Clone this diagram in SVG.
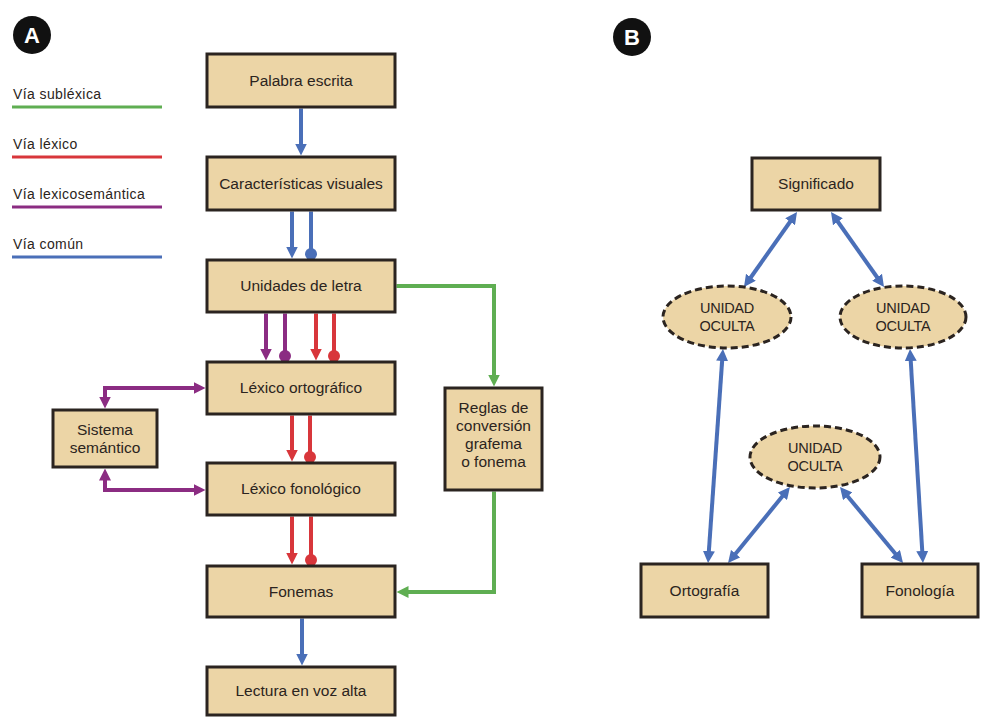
<svg xmlns="http://www.w3.org/2000/svg" width="981" height="717" viewBox="0 0 981 717">
  <style>
    .box { fill: #ecd5a6; stroke: #2b2420; stroke-width: 3; }
    .oval { fill: #ecd5a6; stroke: #2b2420; stroke-width: 3; stroke-dasharray: 7 4; }
    .t { font-family: "Liberation Sans", Arial, sans-serif; font-size: 15.5px; fill: #2b2420; text-anchor: middle; }
    .u { font-family: "Liberation Sans", Arial, sans-serif; font-size: 14.5px; fill: #2b2420; text-anchor: middle; letter-spacing: -0.3px; }
    .leg { font-family: "Liberation Sans", Arial, sans-serif; font-size: 14px; fill: #2b2420; letter-spacing: 0.4px; }
    .badge { font-family: "Liberation Sans", Arial, sans-serif; font-size: 22px; font-weight: bold; fill: #ffffff; text-anchor: middle; }
    .c { fill: none; stroke-width: 4; stroke-linecap: butt; stroke-linejoin: miter; }
    .blue { stroke: #4a6fb8; }
    .red { stroke: #d8363b; }
    .purple { stroke: #8b2c82; }
    .green { stroke: #5fae52; }
    .legline { stroke-width: 3; }
  </style>
  <defs>
    <marker id="ah-blue" viewBox="0 0 12 12" refX="4" refY="6" markerWidth="12" markerHeight="12" markerUnits="userSpaceOnUse" orient="auto-start-reverse">
      <path d="M0,0 L12,6 L0,12 Z" fill="#4a6fb8"/>
    </marker>
    <marker id="ah-red" viewBox="0 0 12 12" refX="4" refY="6" markerWidth="12" markerHeight="12" markerUnits="userSpaceOnUse" orient="auto-start-reverse">
      <path d="M0,0 L12,6 L0,12 Z" fill="#d8363b"/>
    </marker>
    <marker id="ah-purple" viewBox="0 0 12 12" refX="4" refY="6" markerWidth="12" markerHeight="12" markerUnits="userSpaceOnUse" orient="auto-start-reverse">
      <path d="M0,0 L12,6 L0,12 Z" fill="#8b2c82"/>
    </marker>
    <marker id="ah-green" viewBox="0 0 12 12" refX="4" refY="6" markerWidth="12" markerHeight="12" markerUnits="userSpaceOnUse" orient="auto-start-reverse">
      <path d="M0,0 L12,6 L0,12 Z" fill="#5fae52"/>
    </marker>
    <marker id="dot-blue" viewBox="0 0 12 12" refX="6" refY="6" markerWidth="12" markerHeight="12" markerUnits="userSpaceOnUse">
      <circle cx="6" cy="6" r="6" fill="#4a6fb8"/>
    </marker>
    <marker id="dot-red" viewBox="0 0 12 12" refX="6" refY="6" markerWidth="12" markerHeight="12" markerUnits="userSpaceOnUse">
      <circle cx="6" cy="6" r="6" fill="#d8363b"/>
    </marker>
    <marker id="dot-purple" viewBox="0 0 12 12" refX="6" refY="6" markerWidth="12" markerHeight="12" markerUnits="userSpaceOnUse">
      <circle cx="6" cy="6" r="6" fill="#8b2c82"/>
    </marker>
  </defs>

  <rect width="981" height="717" fill="#ffffff"/>

  <!-- Panel badges -->
  <g id="badge-a">
    <circle cx="32" cy="35" r="19" fill="#111111"/>
    <text class="badge" x="32" y="43">A</text>
  </g>
  <g id="badge-b">
    <circle cx="632" cy="37" r="19" fill="#111111"/>
    <text class="badge" x="632" y="45">B</text>
  </g>

  <!-- Legend -->
  <g id="legend">
    <text class="leg" x="13" y="99">Vía subléxica</text>
    <line class="green legline" x1="12" y1="107" x2="162" y2="107"/>
    <text class="leg" x="13" y="149">Vía léxico</text>
    <line class="red legline" x1="12" y1="157" x2="162" y2="157"/>
    <text class="leg" x="13" y="199">Vía lexicosemántica</text>
    <line class="purple legline" x1="12" y1="207" x2="162" y2="207"/>
    <text class="leg" x="13" y="249">Vía común</text>
    <line class="blue legline" x1="12" y1="257" x2="162" y2="257"/>
  </g>

  <!-- Connectors -->
  <g id="connectors">
    <!-- panel A: common route -->
    <line class="c blue" x1="301" y1="108.5" x2="301" y2="147.5" marker-end="url(#ah-blue)"/>
    <line class="c blue" x1="292" y1="211.5" x2="292" y2="250.5" marker-end="url(#ah-blue)"/>
    <line class="c blue" x1="311" y1="211.5" x2="311" y2="254" marker-end="url(#dot-blue)"/>
    <line class="c blue" x1="302" y1="618.5" x2="302" y2="657.5" marker-end="url(#ah-blue)"/>
    <!-- panel A: letter units to orthographic lexicon -->
    <line class="c purple" x1="266" y1="313.5" x2="266" y2="352.5" marker-end="url(#ah-purple)"/>
    <line class="c purple" x1="285" y1="313.5" x2="285" y2="356" marker-end="url(#dot-purple)"/>
    <line class="c red" x1="316" y1="313.5" x2="316" y2="352.5" marker-end="url(#ah-red)"/>
    <line class="c red" x1="334" y1="313.5" x2="334" y2="356" marker-end="url(#dot-red)"/>
    <!-- panel A: lexical route -->
    <line class="c red" x1="292" y1="415.5" x2="292" y2="453.5" marker-end="url(#ah-red)"/>
    <line class="c red" x1="310" y1="415.5" x2="310" y2="457" marker-end="url(#dot-red)"/>
    <line class="c red" x1="292" y1="516.5" x2="292" y2="556.5" marker-end="url(#ah-red)"/>
    <line class="c red" x1="311" y1="516.5" x2="311" y2="560" marker-end="url(#dot-red)"/>
    <!-- panel A: semantic system links -->
    <path class="c purple" d="M105,400.5 V388 H197.5" marker-start="url(#ah-purple)" marker-end="url(#ah-purple)"/>
    <path class="c purple" d="M105,476.5 V490 H197.5" marker-start="url(#ah-purple)" marker-end="url(#ah-purple)"/>
    <!-- panel A: sublexical route -->
    <path class="c green" d="M396.5,286 H494 V378.5" marker-end="url(#ah-green)"/>
    <path class="c green" d="M494,491.5 V592 H404.5" marker-end="url(#ah-green)"/>

    <!-- panel B: bidirectional links -->
    <line class="c blue" x1="792.4" y1="218.5" x2="748.6" y2="280.5" marker-start="url(#ah-blue)" marker-end="url(#ah-blue)"/>
    <line class="c blue" x1="835.6" y1="218.5" x2="879.4" y2="280.5" marker-start="url(#ah-blue)" marker-end="url(#ah-blue)"/>
    <line class="c blue" x1="722.4" y1="357" x2="708.6" y2="555" marker-start="url(#ah-blue)" marker-end="url(#ah-blue)"/>
    <line class="c blue" x1="910.5" y1="357" x2="922.5" y2="555" marker-start="url(#ah-blue)" marker-end="url(#ah-blue)"/>
    <line class="c blue" x1="784.9" y1="493.2" x2="733.1" y2="556.8" marker-start="url(#ah-blue)" marker-end="url(#ah-blue)"/>
    <line class="c blue" x1="845.1" y1="493.2" x2="897.9" y2="556.8" marker-start="url(#ah-blue)" marker-end="url(#ah-blue)"/>
  </g>

  <!-- Panel A nodes -->
  <g id="palabra-escrita">
    <rect class="box" x="207" y="54" width="188" height="53"/>
    <text class="t" x="301" y="86">Palabra escrita</text>
  </g>
  <g id="caracteristicas-visuales">
    <rect class="box" x="207" y="157" width="188" height="53"/>
    <text class="t" x="301" y="189">Características visuales</text>
  </g>
  <g id="unidades-de-letra">
    <rect class="box" x="207" y="260" width="188" height="52"/>
    <text class="t" x="301" y="291">Unidades de letra</text>
  </g>
  <g id="lexico-ortografico">
    <rect class="box" x="207" y="362" width="188" height="52"/>
    <text class="t" x="301" y="393">Léxico ortográfico</text>
  </g>
  <g id="sistema-semantico">
    <rect class="box" x="53" y="410" width="104" height="57"/>
    <text class="t" x="105" y="435">Sistema</text>
    <text class="t" x="105" y="453">semántico</text>
  </g>
  <g id="lexico-fonologico">
    <rect class="box" x="207" y="463" width="188" height="52"/>
    <text class="t" x="301" y="494">Léxico fonológico</text>
  </g>
  <g id="reglas-conversion">
    <rect class="box" x="445" y="388" width="97" height="102"/>
    <text class="t" x="493.5" y="413">Reglas de</text>
    <text class="t" x="493.5" y="431">conversión</text>
    <text class="t" x="493.5" y="449">grafema</text>
    <text class="t" x="493.5" y="467">o fonema</text>
  </g>
  <g id="fonemas">
    <rect class="box" x="207" y="566" width="188" height="51"/>
    <text class="t" x="301" y="597">Fonemas</text>
  </g>
  <g id="lectura-voz-alta">
    <rect class="box" x="207" y="667" width="188" height="48"/>
    <text class="t" x="301" y="696">Lectura en voz alta</text>
  </g>

  <!-- Panel B nodes -->
  <g id="significado">
    <rect class="box" x="752" y="158" width="128" height="52"/>
    <text class="t" x="816" y="189">Significado</text>
  </g>
  <g id="unidad-oculta-izq">
    <ellipse class="oval" cx="727" cy="317" rx="64" ry="31"/>
    <text class="u" x="727" y="313">UNIDAD</text>
    <text class="u" x="727" y="331">OCULTA</text>
  </g>
  <g id="unidad-oculta-der">
    <ellipse class="oval" cx="903" cy="317" rx="63" ry="31"/>
    <text class="u" x="903" y="313">UNIDAD</text>
    <text class="u" x="903" y="331">OCULTA</text>
  </g>
  <g id="unidad-oculta-centro">
    <ellipse class="oval" cx="815" cy="457" rx="65" ry="31"/>
    <text class="u" x="815" y="453">UNIDAD</text>
    <text class="u" x="815" y="471">OCULTA</text>
  </g>
  <g id="ortografia">
    <rect class="box" x="641" y="564" width="127" height="53"/>
    <text class="t" x="704.5" y="596">Ortografía</text>
  </g>
  <g id="fonologia">
    <rect class="box" x="862" y="564" width="116" height="53"/>
    <text class="t" x="920" y="596">Fonología</text>
  </g>
</svg>
